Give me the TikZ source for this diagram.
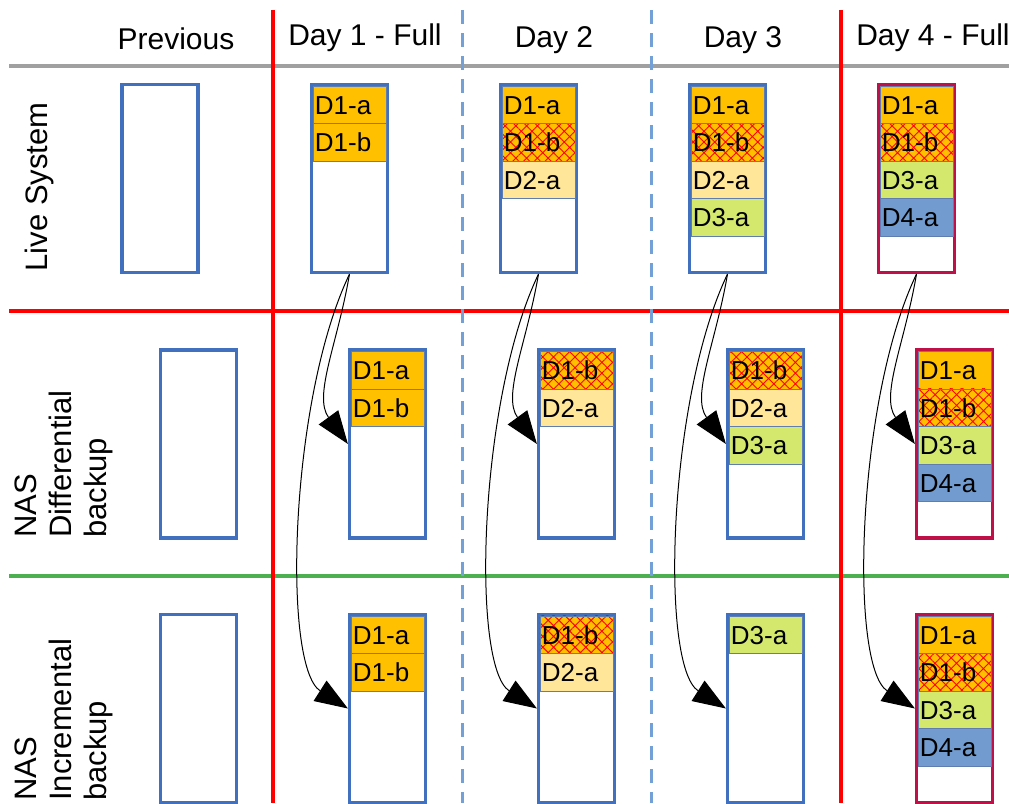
\documentclass[tikz,border=0pt]{standalone}
\usepackage{fontspec}
\setmainfont{Liberation Sans}
\usetikzlibrary{arrows.meta,patterns.meta,calc}
\definecolor{boxblue}{RGB}{65,112,190}
\definecolor{crimson}{RGB}{192,16,72}
\definecolor{cellline}{RGB}{95,125,175}
\definecolor{corange}{RGB}{255,192,0}
\definecolor{cyellow}{RGB}{255,230,153}
\definecolor{cgreen}{RGB}{213,232,110}
\definecolor{cblue}{RGB}{114,156,207}
\definecolor{lgray}{RGB}{160,160,160}
\definecolor{lgreen}{RGB}{76,175,80}
\definecolor{dashblue}{RGB}{115,160,215}
\newcommand{\mkcell}[5]{\node[cellbox,#3,anchor=north west] (#5) at ($(#1.north west)+(3,{3+37.5*(#2-1)})$) {#4};}
\begin{document}
\begin{tikzpicture}[x=1pt,y=-1pt,
  memory/.style={rectangle,draw=boxblue,fill=white,line width=3.2pt,minimum width=76pt,minimum height=188pt,inner sep=0pt},
  fullday/.style={draw=crimson},
  cellbox/.style={rectangle,draw=cellline,line width=0.8pt,minimum height=37.5pt,inner xsep=2pt,inner ysep=0pt,
    text width=69pt,align=left,font=\fontsize{26}{26}\selectfont,text height=18.7pt,text depth=0pt,outer sep=0pt},
  pa/.style={fill=corange},
  pb/.style={preaction={fill=corange},pattern={Hatch[angle=45,distance=7.6pt,line width=0.9pt]},pattern color=red},
  pc/.style={fill=cyellow},
  pd/.style={fill=cgreen},
  pe/.style={fill=cblue},
  hdr/.style={font=\fontsize{30}{36}\selectfont,anchor=base,inner sep=0pt},
  rowlab/.style={font=\fontsize{31}{35}\selectfont,rotate=90,inner sep=0pt,align=left},
  redline/.style={draw=red,line width=4pt},
  conn/.style={draw=black,line width=1pt,-{Triangle[length=33pt,width=24pt]}}
]
\useasboundingbox (0,0) rectangle (1009,803);

% grid lines
\draw[lgray,line width=4pt] (9,66) -- (1009,66);
\draw[redline] (9,311) -- (1009,311);
\draw[lgreen,line width=4pt] (9,576) -- (1009,576);
\draw[redline] (273,10) -- (273,803);
\draw[redline] (841,10) -- (841,803);
\draw[dashblue,line width=3pt,dash pattern=on 14pt off 9pt] (462.5,10) -- (462.5,803);
\draw[dashblue,line width=3pt,dash pattern=on 14pt off 9pt] (651.5,10) -- (651.5,803);

% headers
\node[hdr] (hp) at (176,49) {Previous};
\node[hdr] (h1) at (365,45) {Day 1 - Full};
\node[hdr] (h2) at (554,47) {Day 2};
\node[hdr] (h3) at (743,47) {Day 3};
\node[hdr] (h4) at (933,45) {Day 4 - Full};

% row labels
\node[rowlab,anchor=base] (rl) at (47,187) {Live System};
\node[rowlab,anchor=west] (rd) at (64,538) {NAS\\Differential\\backup};
\node[rowlab,anchor=west] (ri) at (64,801) {NAS\\Incremental\\backup};

% boxes
\node[memory] (LP) at (160,178.5) {};
\node[memory] (L1) at (349.5,178.5) {};
\node[memory] (L2) at (538.5,178.5) {};
\node[memory] (L3) at (727.5,178.5) {};
\node[memory,fullday] (L4) at (916.5,178.5) {};
\node[memory] (DP) at (198.5,444) {};
\node[memory] (D1) at (387.5,444) {};
\node[memory] (D2) at (576.5,444) {};
\node[memory] (D3) at (765.5,444) {};
\node[memory,fullday] (D4) at (954.5,444) {};
\node[memory] (IP) at (198.5,708.5) {};
\node[memory] (I1) at (387.5,708.5) {};
\node[memory] (I2) at (576.5,708.5) {};
\node[memory] (I3) at (765.5,708.5) {};
\node[memory,fullday] (I4) at (954.5,708.5) {};

% cells: live
\mkcell{L1}{1}{pa}{D1-a}{l1a}
\mkcell{L1}{2}{pa}{D1-b}{l1b}
\mkcell{L2}{1}{pa}{D1-a}{l2a}
\mkcell{L2}{2}{pb}{D1-b}{l2b}
\mkcell{L2}{3}{pc}{D2-a}{l2c}
\mkcell{L3}{1}{pa}{D1-a}{l3a}
\mkcell{L3}{2}{pb}{D1-b}{l3b}
\mkcell{L3}{3}{pc}{D2-a}{l3c}
\mkcell{L3}{4}{pd}{D3-a}{l3d}
\mkcell{L4}{1}{pa}{D1-a}{l4a}
\mkcell{L4}{2}{pb}{D1-b}{l4b}
\mkcell{L4}{3}{pd}{D3-a}{l4c}
\mkcell{L4}{4}{pe}{D4-a}{l4d}
% cells: differential
\mkcell{D1}{1}{pa}{D1-a}{d1a}
\mkcell{D1}{2}{pa}{D1-b}{d1b}
\mkcell{D2}{1}{pb}{D1-b}{d2a}
\mkcell{D2}{2}{pc}{D2-a}{d2b}
\mkcell{D3}{1}{pb}{D1-b}{d3a}
\mkcell{D3}{2}{pc}{D2-a}{d3b}
\mkcell{D3}{3}{pd}{D3-a}{d3c}
\mkcell{D4}{1}{pa}{D1-a}{d4a}
\mkcell{D4}{2}{pb}{D1-b}{d4b}
\mkcell{D4}{3}{pd}{D3-a}{d4c}
\mkcell{D4}{4}{pe}{D4-a}{d4d}
% cells: incremental
\mkcell{I1}{1}{pa}{D1-a}{i1a}
\mkcell{I1}{2}{pa}{D1-b}{i1b}
\mkcell{I2}{1}{pb}{D1-b}{i2a}
\mkcell{I2}{2}{pc}{D2-a}{i2b}
\mkcell{I3}{1}{pd}{D3-a}{i3a}
\mkcell{I4}{1}{pa}{D1-a}{i4a}
\mkcell{I4}{2}{pb}{D1-b}{i4b}
\mkcell{I4}{3}{pd}{D3-a}{i4c}
\mkcell{I4}{4}{pe}{D4-a}{i4d}

% connectors
\foreach \k in {1,2,3,4}{
  \draw[conn] (L\k.south) .. controls +(-12,70) and +(-35,-48) .. (D\k.west);
  \draw[conn] (L\k.south) .. controls +(-60,125) and +(-66,-42) .. (I\k.west);
}
\end{tikzpicture}
\end{document}
